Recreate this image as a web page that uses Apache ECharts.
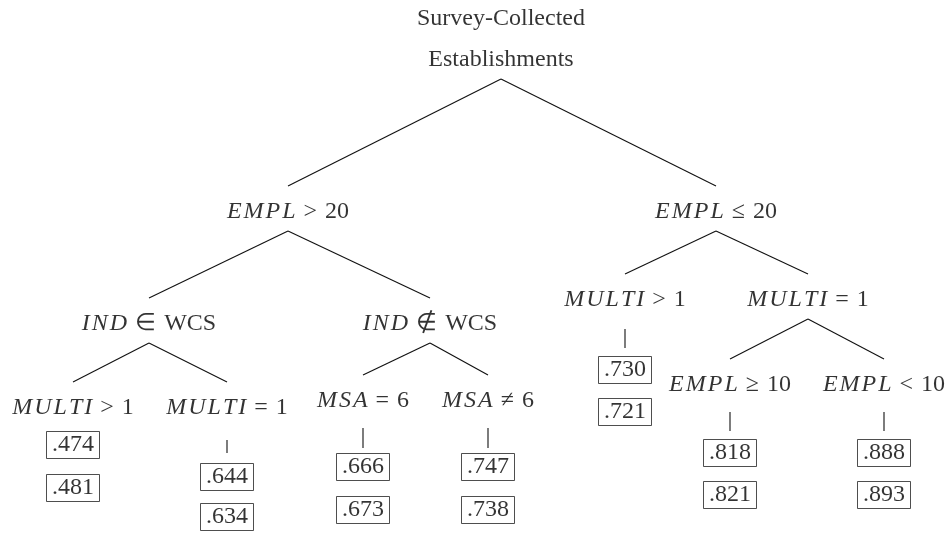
<!DOCTYPE html>
<html>
<head>
<meta charset="utf-8">
<script src="https://cdn.jsdelivr.net/npm/echarts@6/dist/echarts.min.js"></script>
<style>
  html, body { margin: 0; padding: 0; background: #fff; }
  #chart { width: 951px; height: 534px; }
</style>
</head>
<body>
<div id="chart"></div>
<script>
// ---------- DATA ----------
// Tree nodes (index order), their condition variable and relation
const nodeIds   = ['root', 'gt20', 'le20', 'indIn', 'indOut', 'multiGtL', 'multiEqL', 'msaEq', 'msaNe', 'multiGtR', 'multiEqR', 'emplGe10', 'emplLt10'];
const nodeVar   = ['', 'EMPL', 'EMPL', 'IND', 'IND', 'MULTI', 'MULTI', 'MSA', 'MSA', 'MULTI', 'MULTI', 'EMPL', 'EMPL'];
const nodeOp    = ['', '>', '≤', '∈', '∉', '>', '=', '=', '≠', '>', '=', '≥', '<'];
const nodeRhs   = ['', '20', '20', 'WCS', 'WCS', '1', '1', '6', '6', '1', '1', '10', '10'];
const rootTitle = ['Survey-Collected', 'Establishments'];
const parentOf  = [null, 0, 0, 1, 1, 3, 3, 4, 4, 2, 2, 10, 10];
// Leaf nodes and their two boxed values
const leafNodes   = [5, 6, 7, 8, 9, 11, 12];
const leafValueA  = [0.474, 0.644, 0.666, 0.747, 0.730, 0.818, 0.888];
const leafValueB  = [0.481, 0.634, 0.673, 0.738, 0.721, 0.821, 0.893];

// ---------- LAYOUT (positions in page-pixel units) ----------
const layout = {
  nodeX: [501, 288, 716, 149, 430, 73, 227, 363, 488, 625, 808, 730, 884],
  nodeY: [37.5, 210, 210, 322, 322, 406, 406, 399, 399, 298, 298, 383, 383],
  edgeTop: { 0: 79 },        // explicit start y for root edges
  edgeBelow: 21,             // parent label centre -> edge start
  edgeAbove: 24,             // edge end -> child label centre
  connector: [null, [440, 453], [428, 448], [428, 448], [329, 348], [412, 431], [412, 431]],
  boxA: [445, 477, 467, 467, 370, 453, 453],
  boxB: [488, 517, 510, 510, 412, 495, 495]
};

const FONT = '"Liberation Serif", "Times New Roman", serif';
const FS = 24;

// ---------- BUILD ----------
const segments = [];
parentOf.forEach((p, i) => {
  if (p === null) return;
  const y1 = layout.edgeTop[p] !== undefined ? layout.edgeTop[p] : layout.nodeY[p] + layout.edgeBelow;
  segments.push([layout.nodeX[p], y1, layout.nodeX[i], layout.nodeY[i] - layout.edgeAbove]);
});
leafNodes.forEach((n, k) => {
  const c = layout.connector[k];
  if (c) segments.push([layout.nodeX[n], c[0], layout.nodeX[n], c[1]]);
});

const nodePoints = nodeIds.map((id, i) => ({ value: [layout.nodeX[i], layout.nodeY[i]], idx: i }));
const boxPoints = [];
leafNodes.forEach((n, k) => {
  boxPoints.push({ value: [layout.nodeX[n], layout.boxA[k]], v: leafValueA[k] });
  boxPoints.push({ value: [layout.nodeX[n], layout.boxB[k]], v: leafValueB[k] });
});

function spaced(s) { return s.split('').join('\u200A'); }
function fmtVal(v) { return v.toFixed(3).replace(/^0/, ''); }
const GAP = '\u2004';

const chart = echarts.init(document.getElementById('chart'), null, { renderer: 'canvas' });
chart.setOption({
  animation: false,
  backgroundColor: '#ffffff',
  grid: { left: 0, right: 0, top: 0, bottom: 0 },
  xAxis: { type: 'value', min: 0, max: 951, show: false },
  yAxis: { type: 'value', min: 0, max: 534, inverse: true, show: false },
  series: [
    {
      type: 'custom',
      data: segments,
      renderItem: function (params, api) {
        const a = api.coord([api.value(0), api.value(1)]);
        const b = api.coord([api.value(2), api.value(3)]);
        return {
          type: 'line',
          shape: { x1: a[0], y1: a[1], x2: b[0], y2: b[1] },
          style: { stroke: '#111', lineWidth: 1.1 }
        };
      },
      encode: { x: [0, 2], y: [1, 3] },
      silent: true
    },
    {
      type: 'scatter',
      symbolSize: 0,
      data: nodePoints,
      silent: true,
      label: {
        show: true,
        position: 'inside',
        offset: [0, 2],
        color: '#000',
        fontFamily: FONT,
        fontSize: FS,
        formatter: function (p) {
          const i = p.data.idx;
          if (i === 0) return '{t|' + rootTitle.join('}\n{t|') + '}';
          return '{m|' + spaced(nodeVar[i]) + '}{r|' + GAP + nodeOp[i] + GAP + nodeRhs[i] + '}';
        },
        rich: {
          t: { fontFamily: FONT, fontSize: FS, lineHeight: 41, color: '#000' },
          m: { fontFamily: FONT, fontSize: FS, fontStyle: 'italic', color: '#000' },
          r: { fontFamily: FONT, fontSize: FS, color: '#000' }
        }
      }
    },
    {
      type: 'scatter',
      symbolSize: 0,
      data: boxPoints,
      silent: true,
      label: {
        show: true,
        position: 'inside',
        color: '#000',
        fontFamily: FONT,
        fontSize: FS,
        width: 43,
        height: 24,
        lineHeight: 24,
        align: 'center',
        verticalAlign: 'middle',
        padding: [2, 5, 1, 5],
        borderColor: '#222',
        borderWidth: 1,
        formatter: function (p) { return fmtVal(p.data.v); }
      }
    }
  ]
});
</script>
</body>
</html>
